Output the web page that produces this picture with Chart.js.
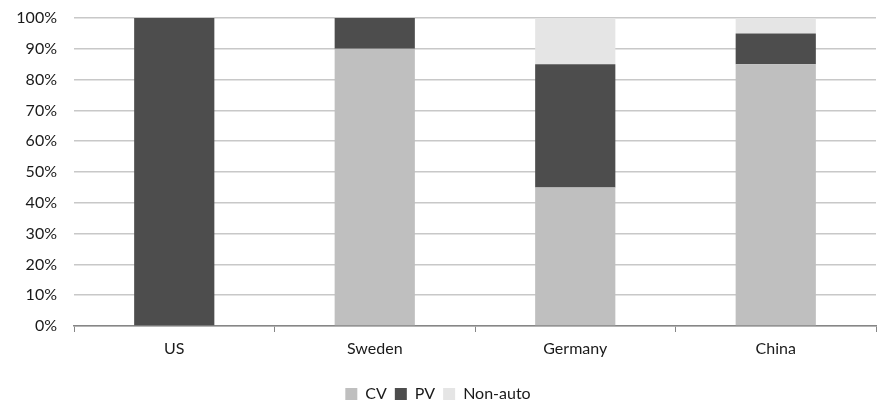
<!DOCTYPE html>
<html>
<head>
<meta charset="utf-8">
<script src="https://cdn.jsdelivr.net/npm/chart.js@4/dist/chart.umd.min.js"></script>
<style>
  html, body { margin: 0; padding: 0; background: #ffffff; }
  #wrap { width: 882px; height: 401px; }
</style>
</head>
<body>
<div id="wrap"><canvas id="c" width="882" height="401"></canvas></div>
<script>
// Share of each segment by country (percent)
const categories = ['US', 'Sweden', 'Germany', 'China'];
const cvShare = [0, 90, 45, 85];
const pvShare = [100, 10, 40, 10];
const nonAutoShare = [0, 0, 15, 5];
const yTicks = [0, 10, 20, 30, 40, 50, 60, 70, 80, 90, 100];

const FONT = "'Lato', 'Open Sans', sans-serif";

new Chart(document.getElementById('c'), {
  type: 'bar',
  data: {
    labels: categories,
    datasets: [
      { label: 'CV', data: cvShare, backgroundColor: '#bfbfbf' },
      { label: 'PV', data: pvShare, backgroundColor: '#4d4d4d' },
      { label: 'Non-auto', data: nonAutoShare, backgroundColor: '#e5e5e5' }
    ]
  },
  options: {
    responsive: false,
    animation: false,
    layout: { padding: { top: 18, right: 6, left: 0, bottom: -11 } },
    datasets: { bar: { categoryPercentage: 1.0, barPercentage: 0.4 } },
    plugins: {
      tooltip: { enabled: false },
      legend: {
        position: 'bottom',
        labels: {
          font: { family: FONT, size: 16 },
          color: '#1a1a1a',
          boxWidth: 12,
          boxHeight: 12,
          padding: 8
        }
      }
    },
    scales: {
      x: {
        stacked: true,
        grid: { display: true, drawOnChartArea: false, offset: true, color: '#868686', tickLength: 6 },
        border: { display: true, color: '#868686', width: 1.5 },
        ticks: { font: { family: FONT, size: 16 }, color: '#1a1a1a', padding: 7 },
        afterFit: (s) => { s.height = 52; }
      },
      y: {
        stacked: true,
        min: 0,
        max: 100,
        afterBuildTicks: (s) => { s.ticks = yTicks.map(v => ({ value: v })); },
        grid: { color: '#c8c8c8', lineWidth: 1.5, drawTicks: false },
        border: { display: false },
        ticks: {
          font: { family: FONT, size: 16 },
          color: '#1a1a1a',
          padding: 17,
          callback: (v) => v + '%'
        },
        afterFit: (s) => { s.width = 74; s.paddingTop = 0; s.paddingBottom = 0; }
      }
    }
  }
});
</script>
</body>
</html>
